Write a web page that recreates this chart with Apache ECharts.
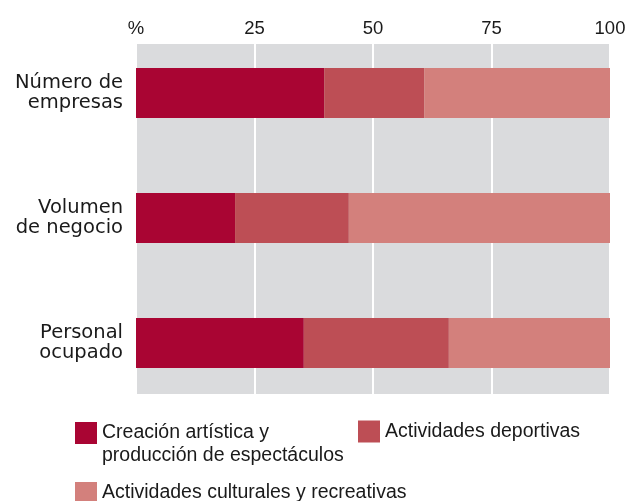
<!DOCTYPE html>
<html>
<head>
<meta charset="utf-8">
<script src="https://cdn.jsdelivr.net/npm/echarts@6/dist/echarts.min.js"></script>
<style>html,body{margin:0;padding:0;background:#fff}#c{width:632px;height:501px}</style>
</head>
<body>
<div id="c"></div>
<script>
var categories = ['Número de\nempresas', 'Volumen\nde negocio', 'Personal\nocupado'];
var seriesNames = ['Creación artística y\nproducción de espectáculos', 'Actividades deportivas', 'Actividades culturales y recreativas'];
var creacion = [39.7, 20.9, 35.4];
var deportivas = [21.1, 24.0, 30.6];
var culturales = [39.2, 55.1, 34.0];
var tickLabels = {0: '%', 25: '25', 50: '50', 75: '75', 100: '100'};

var colors = ['#A90533', '#BD4E55', '#D3807C'];
var FONT = '"Liberation Sans", Arial, sans-serif';
var CATFONT = '"DejaVu Sans", sans-serif';
var TXT = '#1a1a1a';

var chart = echarts.init(document.getElementById('c'), null, {renderer: 'canvas'});
var values = [creacion, deportivas, culturales];
var series = seriesNames.map(function (n, i) {
  return {
    name: n, type: 'bar', stack: 'total', xAxisIndex: 1, yAxisIndex: 1,
    barWidth: 50, data: values[i], itemStyle: {color: colors[i]}, silent: true
  };
});
function legendAt(i, left, top, multi) {
  var l = {
    data: [seriesNames[i]], left: left, top: top, orient: 'horizontal', padding: 0,
    itemWidth: 22, itemHeight: 22, icon: 'rect', selectedMode: false,
    textStyle: {fontFamily: FONT, fontSize: 19.5, color: TXT, lineHeight: 23}
  };
  if (multi) { l.formatter = function (name) { return '\n' + name; }; }
  return l;
}
chart.setOption({
  animation: false,
  textStyle: {fontFamily: FONT},
  grid: [
    {left: 136, right: 22, top: 44, height: 350, show: true, backgroundColor: '#DADBDD', borderWidth: 0},
    {left: 136, right: 22, top: 30.5, height: 375}
  ],
  xAxis: [
    {gridIndex: 0, type: 'value', position: 'top', min: 0, max: 100, interval: 25,
      axisLine: {show: false}, axisTick: {show: false},
      splitLine: {show: true, lineStyle: {color: '#ffffff', width: 2}},
      axisLabel: {fontFamily: FONT, fontSize: 18.5, color: TXT, margin: 6,
        formatter: function (v) { return tickLabels[v]; }}},
    {gridIndex: 1, type: 'value', min: 0, max: 100, show: false, splitLine: {show: false}}
  ],
  yAxis: [
    {gridIndex: 0, type: 'category', data: categories, show: false},
    {gridIndex: 1, type: 'category', data: categories, inverse: true,
      axisLine: {show: false}, axisTick: {show: false}, splitLine: {show: false},
      axisLabel: {fontFamily: CATFONT, fontSize: 19.5, color: TXT, lineHeight: 20, margin: 13, align: 'right',
        padding: [4, 0, 0, 0]}}
  ],
  legend: [
    legendAt(0, 75, 398.5, true),
    legendAt(1, 358, 420, false),
    legendAt(2, 75, 481.5, false)
  ],
  series: series
});
</script>
</body>
</html>
